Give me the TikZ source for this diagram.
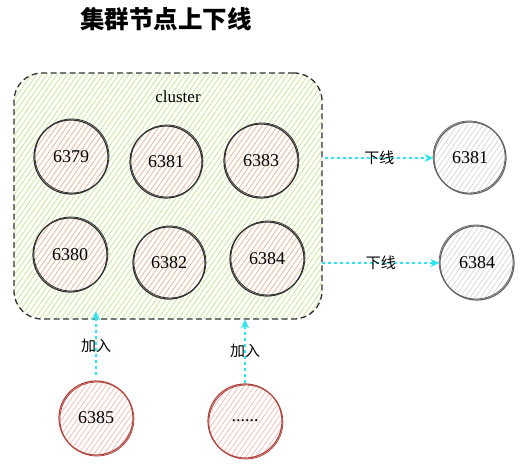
\documentclass[tikz,border=0pt]{standalone}
\usepackage{fontspec}
\setmainfont{Liberation Serif}
\newfontfamily\cjk{Noto Sans CJK SC}
\usetikzlibrary{patterns.meta, arrows.meta}
\definecolor{ink}{RGB}{50,50,50}
\definecolor{grayink}{RGB}{100,100,100}
\definecolor{redink}{RGB}{175,72,66}
\definecolor{greenh}{RGB}{196,228,150}
\definecolor{pinkh}{RGB}{246,188,182}
\definecolor{grayh}{RGB}{215,215,215}
\definecolor{arrowc}{RGB}{45,228,240}
\tikzset{
  sk/.style={circle, minimum size=74pt, inner sep=0pt, line width=1.2pt,
    font=\fontsize{18}{20}\selectfont},
  hatch/.style={pattern={Lines[angle=55,distance=4.2pt,line width=0.75pt]}, pattern color=#1},
  innernode/.style={sk, draw=ink, hatch=pinkh,
    postaction={draw=ink, line width=0.8pt, transform canvas={shift={(0.9pt,1pt)}}}},
  outnode/.style={sk, draw=grayink, hatch=grayh,
    postaction={draw=grayink, line width=0.8pt, transform canvas={shift={(-0.9pt,1pt)}}}},
  newnode/.style={sk, draw=redink, hatch=pinkh,
    postaction={draw=redink, line width=0.8pt, transform canvas={shift={(0.9pt,-1pt)}}}},
  clusterbox/.style={draw=ink, dash pattern=on 6pt off 3.5pt, line width=1.3pt,
    rounded corners=28pt, hatch=greenh, inner sep=0pt},
  flow/.style={draw=arrowc, dashed, line width=1.4pt, -{Stealth[open, length=9pt, width=8pt]}},
  cjklabel/.style={font=\cjk\fontsize{15}{17}\selectfont, text=black},
}
\begin{document}
\begin{tikzpicture}[x=1pt, y=-1pt]
\useasboundingbox (0,0) rectangle (522,471);
\node[font=\cjk\bfseries\fontsize{24.5}{28}\selectfont] (title) at (166,19) {集群节点上下线};
\node[clusterbox, minimum width=308pt, minimum height=246pt] (cluster) at (168,196) {};
\node[font=\fontsize{17}{19}\selectfont] (clabel) at (178,97) {cluster};
\node[innernode] (n6379) at (71,157) {6379};
\node[innernode, minimum size=72pt] (n6381) at (166,162) {6381};
\node[innernode] (n6383) at (261,161) {6383};
\node[innernode] (n6380) at (70,255) {6380};
\node[innernode, minimum size=72pt] (n6382) at (169,263) {6382};
\node[innernode] (n6384) at (267,259) {6384};
\node[outnode, minimum size=72pt] (o6381) at (470,158) {6381};
\node[outnode] (o6384) at (477,263) {6384};
\node[newnode] (n6385) at (96,418) {6385};
\node[newnode] (nmore) at (245,421) {......};
\draw[flow] ([xshift=3pt]cluster.east |- o6381) -- node[cjklabel] {下线} (o6381);
\draw[flow] (cluster.east |- o6384) -- node[cjklabel] {下线} (o6384);
\draw[flow, shorten <=5pt] (n6385.north) -- node[cjklabel] {加入} ([yshift=8pt]n6385.north |- cluster.south);
\draw[flow] (nmore.north) -- node[cjklabel] {加入} (nmore.north |- cluster.south);
\end{tikzpicture}
\end{document}
